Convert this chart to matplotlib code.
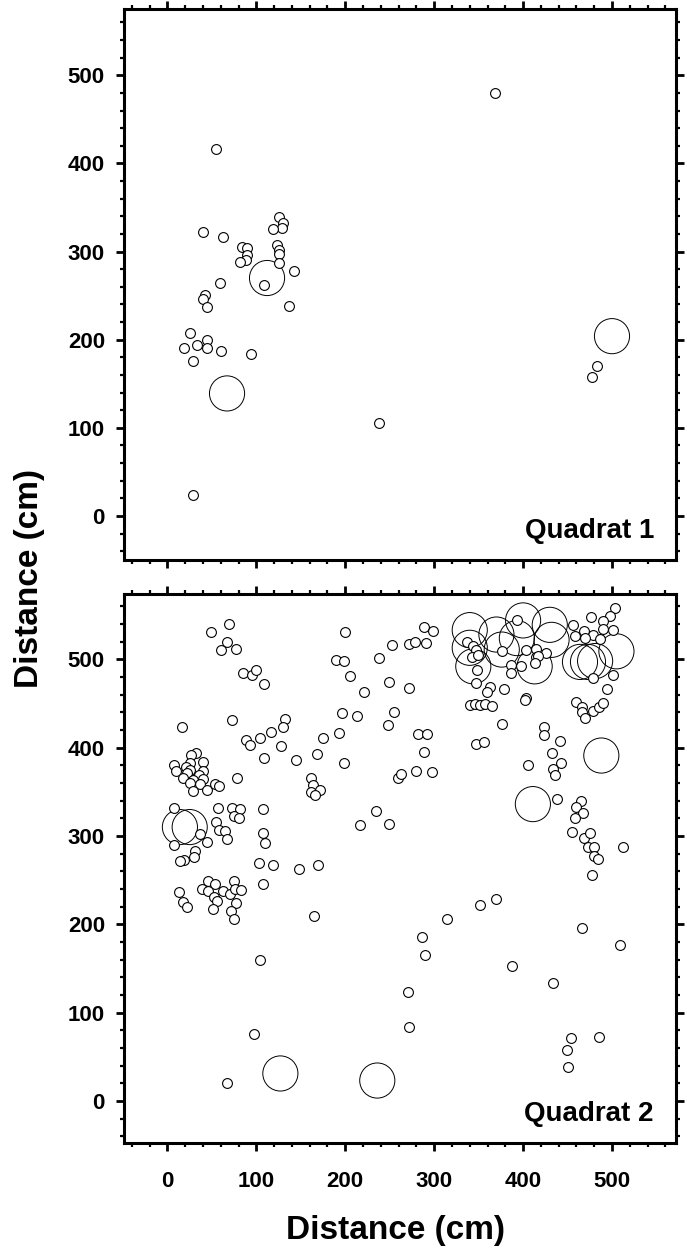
import matplotlib
matplotlib.use("Agg")
import matplotlib.pyplot as plt
from matplotlib.ticker import MultipleLocator
import numpy as np

plt.rcParams['font.family'] = ['Liberation Sans', 'DejaVu Sans']
plt.rcParams['font.weight'] = 'bold'

# quadrat 1
q1_small_x = [55, 40, 63, 126, 130, 129, 119, 84, 90, 89, 88, 82, 123, 125, 125, 126, 142, 109, 59, 42,
              40, 44, 137, 25, 44, 33, 19, 45, 60, 94, 29, 238, 29, 368, 483, 477]
q1_small_y = [416, 322, 317, 339, 332, 327, 326, 305, 304, 296, 291, 288, 307, 302, 297, 287, 278, 262, 264, 251,
              246, 237, 238, 208, 200, 194, 190, 191, 187, 184, 176, 106, 24, 480, 170, 158]
q1_big_x = [112, 67, 500]
q1_big_y = [270, 139, 204]

# quadrat 2
q2_small_x = [69, 49, 67, 60, 77, 85, 95, 100, 109, 73, 16, 132, 130, 116, 104, 88, 93, 128, 109, 145, 78,
              32, 26, 40, 25, 7, 10, 21, 25, 40, 22, 35, 18, 29, 40, 25, 37, 29, 44, 53, 58,
              7, 57, 73, 82, 75, 81, 108, 55, 58, 65, 107, 37, 67, 44, 31, 30, 19, 14, 7, 110, 103, 119, 148, 169,
              107, 216, 249,
              13, 17, 22, 46, 54, 39, 46, 52, 56, 51, 63, 70, 75, 76, 83, 77, 71, 75, 165, 104, 97, 67,
              200, 289, 299, 252, 272, 278, 291, 190, 199, 238, 205, 249, 272, 221, 196, 213, 255, 248, 193, 175,
              168, 199, 282, 292, 289, 259, 263, 280, 298, 162, 164, 161, 172, 166, 235,
              393, 337, 344, 347, 343, 349, 348, 376, 386, 386, 398, 403, 415, 415, 426, 417, 413, 347, 363, 359,
              378, 403, 340, 346, 352, 357, 365, 503, 498, 476, 490, 456, 468, 479, 490, 501, 458, 470, 486, 479,
              501, 494,
              460, 466, 466, 470, 479, 485, 490, 402,
              376, 423, 424, 347, 356, 442, 433, 443, 434, 436, 405, 438, 465, 460, 467, 458, 455, 469, 475, 473,
              480, 512, 480, 484, 478, 369, 352, 314, 286, 290, 466, 509, 387, 434, 271, 272, 454, 485, 449, 450]
q2_small_y = [540, 531, 519, 511, 512, 485, 482, 488, 472, 431, 423, 432, 423, 418, 411, 409, 403, 402, 388, 386, 366,
              394, 392, 384, 382, 380, 374, 378, 375, 373, 371, 369, 365, 363, 364, 360, 359, 351, 352, 359, 357,
              332, 332, 332, 330, 322, 320, 330, 316, 307, 306, 303, 302, 297, 293, 283, 276, 273, 272, 290, 292, 269, 267, 263, 267,
              246, 312, 314,
              236, 225, 219, 249, 245, 240, 238, 231, 226, 217, 238, 234, 249, 240, 239, 224, 215, 206, 209, 159, 76, 20,
              531, 536, 532, 516, 517, 520, 518, 499, 498, 502, 481, 474, 467, 463, 439, 436, 440, 426, 417, 411,
              393, 383, 415, 415, 395, 366, 370, 374, 372, 365, 358, 350, 352, 346, 328,
              544, 519, 515, 510, 503, 505, 488, 509, 494, 485, 492, 510, 512, 503, 507, 504, 496, 473, 469, 463,
              466, 456, 448, 449, 448, 449, 447, 558, 549, 548, 543, 539, 532, 528, 534, 533, 526, 524, 523, 479,
              482, 466,
              452, 446, 440, 433, 441, 446, 450, 454,
              427, 423, 414, 404, 406, 408, 394, 382, 376, 369, 380, 342, 339, 333, 326, 320, 304, 298, 303, 287,
              287, 288, 277, 274, 256, 228, 222, 206, 185, 165, 196, 177, 153, 133, 123, 84, 71, 72, 58, 38]
q2_big_x = [14, 25, 127, 236, 488, 411, 340, 340, 344, 370, 376, 400, 393, 413, 430, 432, 464, 473, 481, 505]
q2_big_y = [310, 310, 31, 23, 391, 336, 533, 513, 492, 528, 511, 544, 524, 492, 539, 522, 497, 497, 498, 509]

fig = plt.figure(figsize=(6.87, 12.53), dpi=100)
ax1 = fig.add_axes([0.181, 0.5531, 0.803, 0.4395])
ax2 = fig.add_axes([0.181, 0.0876, 0.803, 0.4384])

small_s = 50
big_s = 640

for ax, sx, sy, bx, by, name in [(ax1, q1_small_x, q1_small_y, q1_big_x, q1_big_y, 'Quadrat 1'),
                                  (ax2, q2_small_x, q2_small_y, q2_big_x, q2_big_y, 'Quadrat 2')]:
    ax.scatter(bx, by, s=big_s, facecolors='none', edgecolors='black', linewidths=0.7, zorder=2)
    ax.scatter(sx, sy, s=small_s, facecolors='white', edgecolors='black', linewidths=0.8, zorder=3)
    ax.set_xlim(-48.5, 572)
    ax.set_ylim(-50, 575)
    ax.xaxis.set_major_locator(MultipleLocator(100))
    ax.xaxis.set_minor_locator(MultipleLocator(20))
    ax.yaxis.set_major_locator(MultipleLocator(100))
    ax.yaxis.set_minor_locator(MultipleLocator(20))
    ax.tick_params(which='both', direction='out', top=True, right=True, labelsize=16)
    ax.tick_params(which='major', length=6, width=2)
    ax.tick_params(which='minor', length=3, width=1.6)
    ax.tick_params(axis='y', pad=8)
    ax.tick_params(axis='x', pad=14)
    for sp in ax.spines.values():
        sp.set_linewidth(2.2)
    for lbl in ax.get_xticklabels() + ax.get_yticklabels():
        lbl.set_fontweight('bold')
    ax.text(0.960, 0.040, name, transform=ax.transAxes, ha='right', va='baseline',
            fontsize=20, fontweight='bold')

ax1.tick_params(axis='x', labelbottom=False)
ax2.set_ylim(-48, 574)

fig.text(30 / 687, 1 - 578 / 1253, 'Distance (cm)', rotation=90, ha='center', va='center',
         fontsize=24, fontweight='bold')
fig.text(396 / 687, 1 - 1230 / 1253, 'Distance (cm)', ha='center', va='center',
         fontsize=24, fontweight='bold')

fig.savefig('out.png', dpi=100)
